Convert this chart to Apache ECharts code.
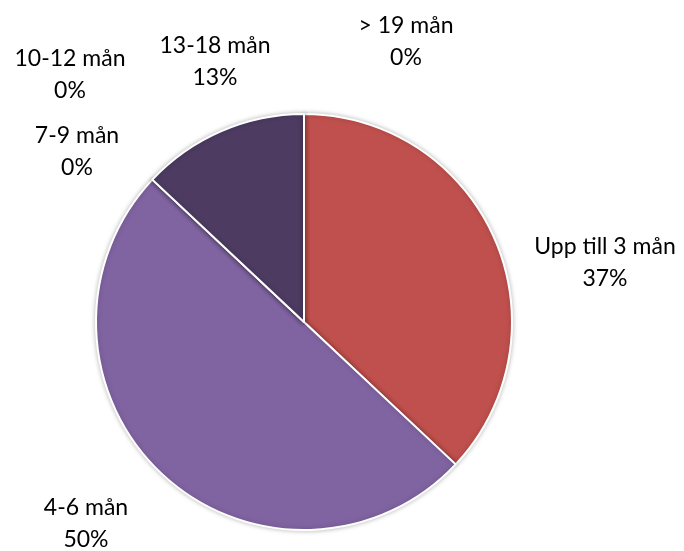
<!DOCTYPE html>
<html>
<head>
<meta charset="utf-8">
<script src="https://cdn.jsdelivr.net/npm/echarts@6/dist/echarts.min.js"></script>
<style>
html,body{margin:0;padding:0;background:#fff;}
#chart{width:684px;height:551px;}
</style>
</head>
<body>
<div id="chart"></div>
<script>
var categories = ['Upp till 3 mån', '4-6 mån', '7-9 mån', '10-12 mån', '13-18 mån', '> 19 mån'];
var values = [37, 50, 0, 0, 13, 0];
var colors = ['#C0504D', '#8064A2', '#4BACC6', '#F79646', '#4D3B62', '#9BBB59'];

// label anchor positions (layout only)
var labelAnchors = [[605, 263], [86, 524], [77, 152], [70, 75], [215, 62], [406, 42]];

var chart = echarts.init(document.getElementById('chart'));
chart.setOption({
  animation: false,
  series: [{
    type: 'pie',
    center: [304, 322],
    radius: 208,
    startAngle: 90,
    clockwise: true,
    avoidLabelOverlap: false,
    minShowLabelAngle: 0,
    stillShowZeroSum: true,
    data: categories.map(function (c, i) {
      return { name: c, value: values[i], itemStyle: { color: colors[i] } };
    }),
    itemStyle: {
      borderColor: '#ffffff',
      borderWidth: 2,
      shadowBlur: 5,
      shadowColor: 'rgba(0,0,0,0.25)'
    },
    label: {
      show: true,
      position: 'outside',
      formatter: function (p) { return p.name + '\n' + p.value + '%'; },
      fontFamily: 'Lato, "Noto Sans", sans-serif',
      fontSize: 23,
      lineHeight: 32,
      color: '#000',
      align: 'center'
    },
    labelLine: { show: false },
    labelLayout: function (params) {
      var a = labelAnchors[params.dataIndex];
      return { x: a[0], y: a[1], align: 'center', verticalAlign: 'middle' };
    },
    emphasis: { disabled: true }
  }]
});
</script>
</body>
</html>
